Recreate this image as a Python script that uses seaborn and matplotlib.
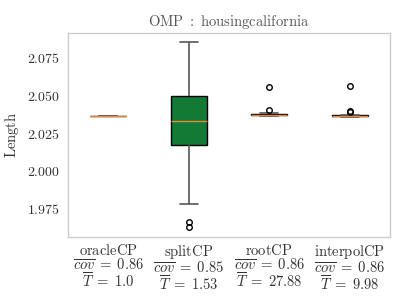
import numpy as np
import pandas as pd
import matplotlib
matplotlib.use("Agg")
import matplotlib.pyplot as plt
import seaborn as sns
from matplotlib.ticker import FuncFormatter

methods = ["oracleCP", "splitCP", "rootCP", "interpolCP"]
cov_means = ["0.86", "0.85", "0.86", "0.86"]
time_means = ["1.0", "1.53", "27.88", "9.98"]

oracle_len = [2.0363, 2.0363, 2.0363, 2.0363, 2.0363]
split_len = [1.9623, 1.9657, 1.978, 2.017, 2.022, 2.028, 2.033, 2.040, 2.046,
             2.050, 2.062, 2.075, 2.0857]
root_len = [2.0362, 2.0365, 2.0367, 2.0368, 2.0370, 2.0371, 2.0372, 2.0374,
            2.0376, 2.0378, 2.0385, 2.0403, 2.0555]
interp_len = [2.0358, 2.0360, 2.0361, 2.0362, 2.0363, 2.0363, 2.0364, 2.0365,
              2.0366, 2.0367, 2.0390, 2.0398, 2.0563]

box_colors = ["#1f77b4", "#137a36", "#7f7f7f", "#7f7f7f"]

rows = []
for m, vals in zip(methods, [oracle_len, split_len, root_len, interp_len]):
    for v in vals:
        rows.append({"method": m, "length": v})
df = pd.DataFrame(rows)

sns.set_theme(style="whitegrid")
plt.rcParams["mathtext.fontset"] = "cm"
plt.rcParams["font.family"] = ["DejaVu Serif"]

fig = plt.figure(figsize=(4.07, 3.05), dpi=100)
ax = fig.add_axes([0.167, 0.223, 0.791, 0.669])

sns.boxplot(data=df, x="method", y="length", order=methods, hue="method",
            palette=box_colors, legend=False, width=0.45, ax=ax, saturation=1,
            linecolor="black", linewidth=1.0,
            medianprops={"color": "#e8853f", "linewidth": 1.0},
            whiskerprops={"color": "#555555", "linewidth": 1.2},
            capprops={"color": "#555555", "linewidth": 1.2},
            flierprops={"marker": "o", "markersize": 4, "markerfacecolor": "none",
                        "markeredgecolor": "black", "markeredgewidth": 1.0})

ax.grid(False)
for s in ax.spines.values():
    s.set_color("#cccccc")
    s.set_linewidth(1.0)

ax.set_ylim(1.9557, 2.0917)
ax.set_yticks([1.975, 2.000, 2.025, 2.050, 2.075])
ax.yaxis.set_major_formatter(FuncFormatter(lambda v, p: r"$%.3f$" % v))
ax.tick_params(axis="y", length=0, labelsize=10, labelcolor="#333333", pad=6)
ax.tick_params(axis="x", length=0, labelsize=10.5, labelcolor="#333333", pad=4)

labels = [r"$\mathrm{%s}$" % m + "\n" + r"$\overline{cov}\;=\;%s$" % c + "\n" +
          r"$\overline{T}\;=\;%s$" % t
          for m, c, t in zip(methods, cov_means, time_means)]
ax.set_xticks(range(len(methods)))
ax.set_xticklabels(labels, linespacing=0.95)
ax.set_xlabel("")
ax.set_ylabel(r"$\mathrm{Length}$", fontsize=10.5, color="#333333", labelpad=4)
ax.set_title(r"$\mathrm{OMP\ :\ housingcalifornia}$", fontsize=10.5, color="#555555", pad=5)

fig.savefig("out.png", dpi=100)
